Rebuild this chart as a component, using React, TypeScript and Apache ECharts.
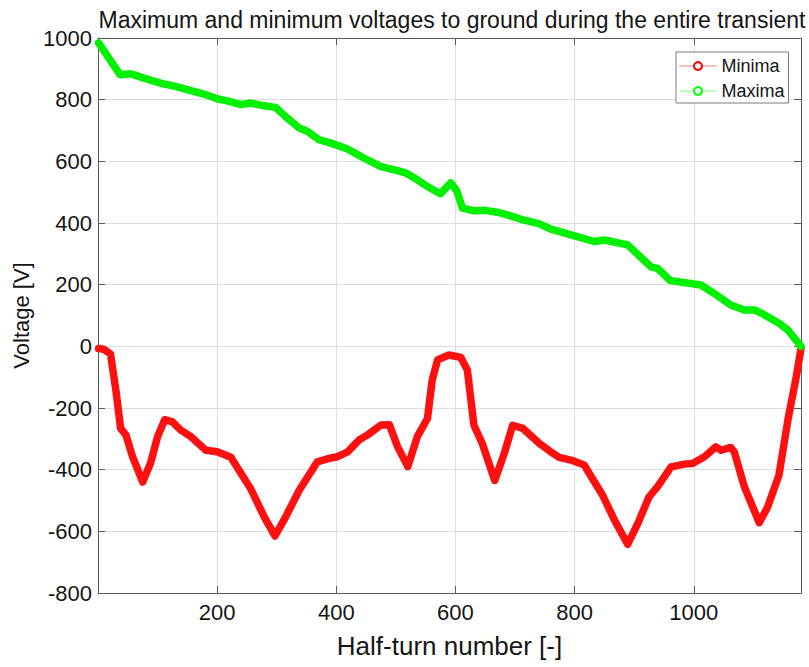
import React, { useEffect, useRef } from 'react';
import * as echarts from 'echarts';

const titleText = 'Maximum and minimum voltages to ground during the entire transient';
const xAxisName = 'Half-turn number [-]';
const yAxisName = 'Voltage [V]';
const seriesNames = ['Minima', 'Maxima'];

const xMin = 0;
const xMax = 1180;
const xInterval = 200;
const yMin = -800;
const yMax = 1000;
const yInterval = 200;

const minimaHalfTurns = [1, 10, 21, 30, 38, 47, 58, 75, 88, 100, 112, 125, 139, 156, 181, 200, 223, 256, 279, 297, 315, 338, 368, 391, 402, 419, 438, 452, 475, 489, 503, 520, 536, 553, 561, 570, 589, 609, 620, 631, 645, 666, 682, 696, 713, 741, 760, 774, 794, 816, 847, 867, 889, 906, 925, 939, 962, 984, 998, 1018, 1037, 1046, 1062, 1068, 1085, 1110, 1124, 1143, 1158, 1172, 1180];
const minimaVoltages = [-7, -10, -25, -142, -266, -288, -358, -440, -380, -293, -238, -245, -272, -293, -337, -342, -360, -461, -553, -615, -553, -466, -375, -362, -358, -342, -304, -288, -255, -254, -326, -390, -293, -234, -109, -44, -28, -36, -77, -256, -315, -435, -347, -256, -266, -315, -342, -360, -369, -385, -483, -564, -642, -575, -488, -456, -391, -382, -380, -358, -326, -337, -328, -342, -456, -572, -521, -418, -239, -99, -7];

const maximaHalfTurns = [1, 37, 55, 77, 91, 108, 130, 156, 181, 200, 217, 240, 256, 279, 298, 318, 338, 352, 371, 391, 419, 447, 475, 503, 517, 536, 550, 565, 575, 592, 602, 612, 630, 650, 670, 690, 710, 740, 760, 800, 833, 850, 889, 928, 939, 961, 1012, 1034, 1062, 1085, 1102, 1116, 1143, 1158, 1180];
const maximaVoltages = [984, 881, 884, 870, 862, 852, 843, 829, 816, 803, 796, 784, 789, 780, 775, 740, 708, 697, 670, 659, 640, 610, 583, 570, 562, 540, 522, 505, 495, 530, 505, 448, 440, 441, 435, 425, 412, 398, 380, 358, 340, 345, 329, 258, 253, 213, 199, 172, 134, 118, 118, 105, 75, 53, 0];

const FONT = '"Liberation Sans", Arial, sans-serif';
const AXIS_COLOR = '#5a5a5a';
const GRID_COLOR = '#dedede';
const TEXT_COLOR = '#151515';

function zip(xs: number[], ys: number[]) {
  return xs.map((x, i) => [x, ys[i]]);
}

export default function App() {
  const ref = useRef<HTMLDivElement>(null);

  useEffect(() => {
    if (!ref.current) return;
    const chart = echarts.init(ref.current, null, { renderer: 'svg' });

    const xLabelFmt = (v: number) => (v === 0 || v % xInterval !== 0 ? '' : String(v));
    const yLabelFmt = (v: number) => String(v);

    const option: any = {
      animation: false,
      backgroundColor: '#ffffff',
      grid: { left: 98, right: 8, top: 38, bottom: 74, containLabel: false },
      graphic: [
        {
          type: 'text',
          x: 452,
          y: 20,
          style: {
            text: titleText,
            fontSize: 23,
            fontFamily: FONT,
            fill: TEXT_COLOR,
            textAlign: 'center',
            textVerticalAlign: 'middle',
          },
        },
      ],
      legend: {
        orient: 'vertical',
        left: 676,
        top: 52,
        padding: [5, 4, 3, 3],
        itemGap: 7,
        itemWidth: 37,
        itemHeight: 10,
        backgroundColor: '#ffffff',
        borderColor: '#7a7a7a',
        borderWidth: 1,
        borderRadius: 0,
        textStyle: { fontSize: 18, fontFamily: FONT, color: TEXT_COLOR, lineHeight: 16 },
        data: [
          { name: seriesNames[0], lineStyle: { color: '#ff7a7a', width: 1 } },
          { name: seriesNames[1], lineStyle: { color: '#7aff7a', width: 1 } },
        ],
      },
      xAxis: [
        {
          type: 'value',
          position: 'bottom',
          min: xMin,
          max: xMax,
          interval: xInterval,
          name: xAxisName,
          nameLocation: 'middle',
          nameGap: 40,
          nameTextStyle: { fontSize: 26, fontFamily: FONT, color: TEXT_COLOR },
          axisLine: { show: true, onZero: false, lineStyle: { color: AXIS_COLOR, width: 1 } },
          axisTick: { show: true, inside: true, length: 7, lineStyle: { color: AXIS_COLOR } },
          axisLabel: {
            show: true,
            margin: 8,
            fontSize: 22,
            fontFamily: FONT,
            color: TEXT_COLOR,
            formatter: xLabelFmt,
            showMinLabel: false,
          },
          splitLine: { show: true, lineStyle: { color: GRID_COLOR, width: 1 } },
        },
        {
          type: 'value',
          position: 'top',
          min: xMin,
          max: xMax,
          interval: xInterval,
          axisLine: { show: true, onZero: false, lineStyle: { color: AXIS_COLOR, width: 1 } },
          axisTick: { show: true, inside: true, length: 7, lineStyle: { color: AXIS_COLOR } },
          axisLabel: { show: false },
          splitLine: { show: false },
        },
      ],
      yAxis: [
        {
          type: 'value',
          position: 'left',
          min: yMin,
          max: yMax,
          interval: yInterval,
          name: yAxisName,
          nameLocation: 'middle',
          nameGap: 66,
          nameRotate: 90,
          nameTextStyle: { fontSize: 22, fontFamily: FONT, color: TEXT_COLOR },
          axisLine: { show: true, onZero: false, lineStyle: { color: AXIS_COLOR, width: 1 } },
          axisTick: { show: true, inside: true, length: 7, lineStyle: { color: AXIS_COLOR } },
          axisLabel: {
            show: true,
            margin: 6,
            fontSize: 22,
            fontFamily: FONT,
            color: TEXT_COLOR,
            formatter: yLabelFmt,
          },
          splitLine: { show: true, lineStyle: { color: GRID_COLOR, width: 1 } },
        },
        {
          type: 'value',
          position: 'right',
          min: yMin,
          max: yMax,
          interval: yInterval,
          axisLine: { show: true, onZero: false, lineStyle: { color: AXIS_COLOR, width: 1 } },
          axisTick: { show: true, inside: true, length: 7, lineStyle: { color: AXIS_COLOR } },
          axisLabel: { show: false },
          splitLine: { show: false },
        },
      ],
      series: [
        {
          name: seriesNames[0],
          type: 'line',
          xAxisIndex: 0,
          yAxisIndex: 0,
          data: zip(minimaHalfTurns, minimaVoltages),
          symbol: 'emptyCircle',
          symbolSize: 7,
          showSymbol: false,
          color: '#ff0000',
          lineStyle: { color: '#ff1010', width: 7.5, cap: 'round', join: 'round' },
          itemStyle: { color: '#ff0000' },
          z: 2,
        },
        {
          name: seriesNames[1],
          type: 'line',
          xAxisIndex: 0,
          yAxisIndex: 0,
          data: zip(maximaHalfTurns, maximaVoltages),
          symbol: 'emptyCircle',
          symbolSize: 7,
          showSymbol: false,
          color: '#00ff00',
          lineStyle: { color: '#00f000', width: 7.5, cap: 'round', join: 'round' },
          itemStyle: { color: '#00ff00' },
          z: 3,
        },
      ],
    };

    chart.setOption(option);
    return () => chart.dispose();
  }, []);

  return (
    <div
      ref={ref}
      style={{ position: 'fixed', left: 0, top: 0, width: 809, height: 667, background: '#ffffff' }}
    />
  );
}
